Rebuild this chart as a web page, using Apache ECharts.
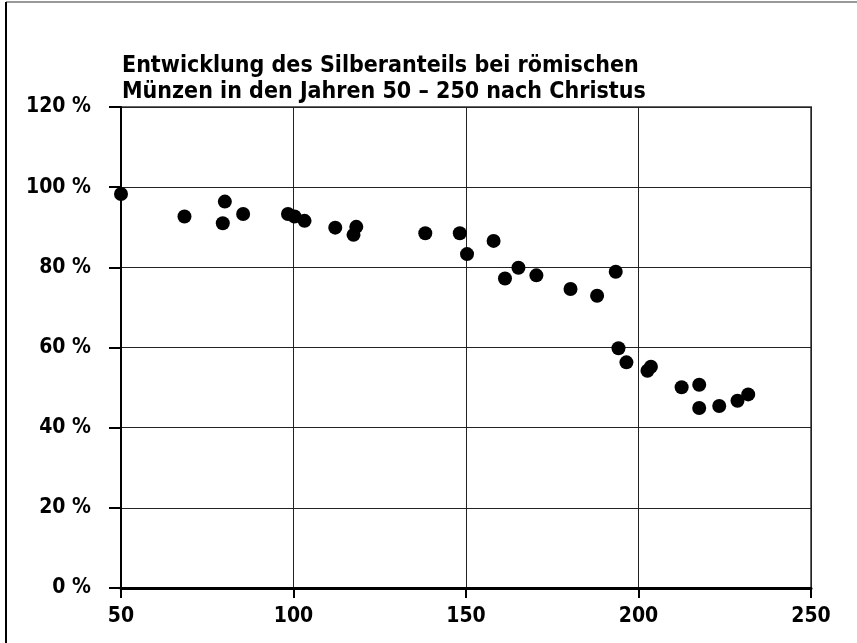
<!DOCTYPE html>
<html>
<head>
<meta charset="utf-8">
<script src="https://cdn.jsdelivr.net/npm/echarts@6/dist/echarts.min.js"></script>
<style>
  html, body { margin: 0; padding: 0; background: #fff; }
  #chart { width: 857px; height: 643px; }
</style>
</head>
<body>
<div id="chart"></div>
<script>
// Jahr (n. Chr.) und Silberanteil in %
var years = [50, 68.4, 80.1, 79.5, 85.4, 98.4, 100.3, 103.2, 112.1, 118.2, 117.4,
  138.2, 148.2, 150.3, 158.0, 161.3, 165.2, 170.4, 180.3, 188.0, 193.4,
  194.2, 196.5, 202.6, 203.6, 212.5, 217.6, 217.6, 223.4, 228.7, 231.8];
var silver = [98.3, 92.7, 96.4, 91.0, 93.3, 93.3, 92.7, 91.6, 89.9, 90.1, 88.1,
  88.5, 88.5, 83.3, 86.6, 77.2, 79.9, 78.0, 74.6, 72.9, 78.9,
  59.8, 56.3, 54.2, 55.2, 50.1, 50.7, 44.9, 45.4, 46.7, 48.3];
var titleLines = ['Entwicklung des Silberanteils bei römischen', 'Münzen in den Jahren 50 – 250 nach Christus'];

var chart = echarts.init(document.getElementById('chart'));
var font = '"DejaVu Sans Condensed", "Liberation Sans", Arial, sans-serif';

var points = years.map(function (y, i) { return [y, silver[i]]; });

chart.setOption({
  animation: false,
  backgroundColor: '#fff',
  title: {
    text: titleLines.join('\n'),
    left: 117,
    top: 48,
    textStyle: { fontFamily: font, fontWeight: 'bold', fontSize: 23, lineHeight: 26, color: '#000' }
  },
  grid: {
    left: 121, top: 107, right: 46, bottom: 55,
    show: true, borderColor: '#666', borderWidth: 2
  },
  xAxis: {
    type: 'value',
    min: 50, max: 250, interval: 50,
    axisLine: { show: true, onZero: false, lineStyle: { color: '#000', width: 3 } },
    axisTick: { show: true, length: 10, lineStyle: { color: '#000', width: 2 } },
    axisLabel: { margin: 18, fontFamily: font, fontWeight: 'bold', fontSize: 21, color: '#000' },
    splitLine: { show: true, lineStyle: { color: '#222', width: 1 } }
  },
  yAxis: {
    type: 'value',
    min: 0, max: 120, interval: 20,
    axisLine: { show: true, lineStyle: { color: '#000', width: 2 } },
    axisTick: { show: true, length: 12, lineStyle: { color: '#000', width: 2 } },
    axisLabel: { margin: 30, fontFamily: font, fontWeight: 'bold', fontSize: 21, color: '#000',
      formatter: '{value} %' },
    splitLine: { show: true, lineStyle: { color: '#222', width: 1 } }
  },
  series: [{
    type: 'scatter',
    data: points,
    symbol: 'circle',
    symbolSize: 14,
    itemStyle: { color: '#000', opacity: 1 }
  }],
  graphic: [
    { type: 'line', shape: { x1: 6, y1: 2, x2: 857, y2: 2 }, style: { stroke: '#999', lineWidth: 2 } },
    { type: 'line', shape: { x1: 6, y1: 2, x2: 6, y2: 643 }, style: { stroke: '#000', lineWidth: 2 } }
  ]
});
</script>
</body>
</html>
